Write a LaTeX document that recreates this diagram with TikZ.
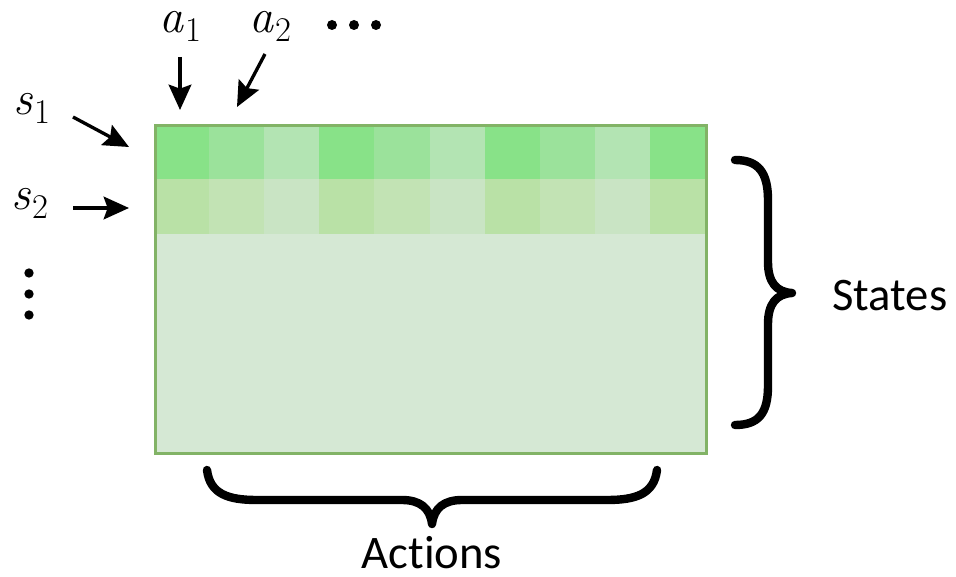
\documentclass[tikz,border=0pt]{standalone}
\usepackage{fontspec}
\newfontfamily\wordfont[Ligatures=NoCommon]{Carlito}
\usetikzlibrary{arrows.meta}

\definecolor{qdark}{HTML}{88E288}
\definecolor{qmid}{HTML}{9BE29B}
\definecolor{qlight}{HTML}{B3E4B3}
\definecolor{sdark}{HTML}{B9E1A6}
\definecolor{smid}{HTML}{C2E3B4}
\definecolor{slight}{HTML}{C9E4C4}
\definecolor{qrest}{HTML}{D5E8D4}
\definecolor{qborder}{HTML}{82B366}

% variable with a subscript, in the serif face
\newcommand\symsub[2]{\textit{#1}\kern1pt\raisebox{-6.3pt}{\fontsize{26}{26}\selectfont #2}}

\begin{document}
\begin{tikzpicture}[x=0.75pt,y=-0.75pt,
  symlabel/.style={inner sep=0pt,anchor=base west,font=\fontsize{36}{36}\selectfont},
  wordlabel/.style={inner sep=0pt,font=\wordfont\fontsize{35}{35}\selectfont},
  pointer/.style={line width=2.5pt,-{Stealth[length=19pt,width=17pt,inset=3pt]}},
  bracepath/.style={line width=6.3pt,line cap=round,line join=round},
  dotmark/.style={circle,fill=black,inner sep=0pt,minimum size=7.5pt}]

\useasboundingbox (0,0) rectangle (956,577);

% table body: two coloured rows, the remaining rows plain
\fill[qrest] (154,124) rectangle (705,452);
\foreach \i in {0,...,9}{
  \pgfmathtruncatemacro\k{mod(\i,3)}
  \ifcase\k
    \def\ca{qdark}\def\cb{sdark}
  \or
    \def\ca{qmid}\def\cb{smid}
  \else
    \def\ca{qlight}\def\cb{slight}
  \fi
  \pgfmathsetmacro\xa{154+55.1*\i}
  \pgfmathsetmacro\xb{154+55.1*(\i+1)}
  \fill[\ca] (\xa,124) rectangle (\xb,179);
  \fill[\cb] (\xa,179) rectangle (\xb,234);
}
\node[draw=qborder,line width=2.25pt,inner sep=0pt,minimum width=551*0.75pt,
      minimum height=328*0.75pt,anchor=north west] (table) at (154,124) {};

% action labels
\node[symlabel] (a1) at (159,33) {\symsub{a}{1}};
\node[symlabel] (a2) at (249,33) {\symsub{a}{2}};
\node[dotmark] (h1) at (332,25) {};
\node[dotmark] (h2) at (354,25) {};
\node[dotmark] (h3) at (376,25) {};

% state labels
\node[symlabel] (s1) at (13,115) {\symsub{s}{1}};
\node[symlabel] (s2) at (11,210) {\symsub{s}{2}};
\node[dotmark,minimum size=7pt] (v1) at (29,273) {};
\node[dotmark,minimum size=7pt] (v2) at (29,294) {};
\node[dotmark,minimum size=7pt] (v3) at (29,315) {};

% pointers into the table
\coordinate (pa1s) at (180,57);  \coordinate (pa1e) at (180,110);
\coordinate (pa2s) at (265,54);  \coordinate (pa2e) at (237,107);
\coordinate (ps1s) at (73,117);  \coordinate (ps1e) at (129,147);
\coordinate (ps2s) at (73,208);  \coordinate (ps2e) at (129,208);
\draw[pointer] (pa1s) -- (pa1e);
\draw[pointer] (pa2s) -- (pa2e);
\draw[pointer] (ps1s) -- (ps1e);
\draw[pointer] (ps2s) -- (ps2e);

% brace over the rows
\draw[bracepath] (735,160) .. controls (758,160) and (768,172) .. (768,200)
  -- (768,262) .. controls (768,282) and (776,292) .. (792,293)
  .. controls (776,294) and (768,304) .. (768,324)
  -- (768,386) .. controls (768,414) and (758,425) .. (735,425);
\node[wordlabel,anchor=west] (states) at (832,296) {States};

% brace under the columns
\draw[bracepath] (207,470) .. controls (210,494) and (228,500) .. (257,500)
  -- (402,500) .. controls (420,500) and (430,508) .. (432,524)
  .. controls (434,508) and (444,500) .. (462,500)
  -- (607,500) .. controls (636,500) and (654,494) .. (657,470);
\node[wordlabel] (actions) at (432,553) {Actions};
\end{tikzpicture}
\end{document}
